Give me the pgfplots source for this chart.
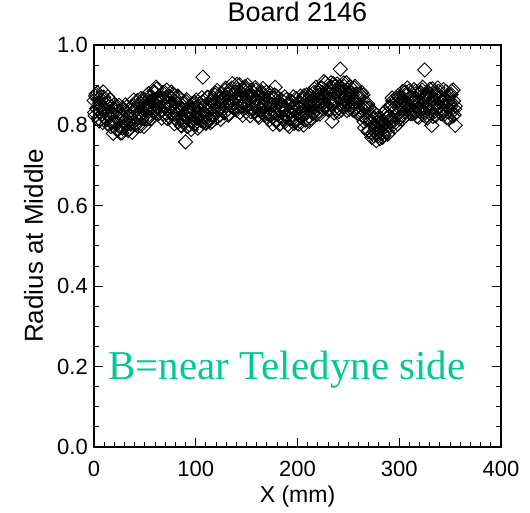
\documentclass[border=0pt]{standalone}
\usepackage{pgfplots}
\pgfplotsset{compat=1.18}
\usepackage{fontspec}
\setmainfont{Liberation Serif}
\newfontfamily\axisfont{Liberation Sans}
\definecolor{tealgreen}{RGB}{0,200,150}
\begin{document}
\begin{tikzpicture}
\path[use as bounding box] (-94pt,-66pt) rectangle (436pt,447pt);
\begin{axis}[
  scale only axis, width=407pt, height=402pt,
  xmin=0, xmax=400, ymin=0, ymax=1,
  xtick={0,100,200,300,400}, minor x tick num=9,
  ytick={0,0.2,0.4,0.6,0.8,1.0}, minor y tick num=3,
  tick align=inside, major tick length=9pt, minor tick length=4.5pt,
  axis line style={line width=1.6pt},
  every tick/.style={black, line width=1pt},
  /pgf/number format/assume math mode=true,
  tick label style={font=\axisfont\fontsize{22}{24}\selectfont},
  yticklabel style={/pgf/number format/.cd, fixed, fixed zerofill, precision=1, /tikz/.cd, inner sep=0pt, xshift=-6pt},
  xticklabel style={inner sep=0pt, yshift=-14pt},
  title={Board 2146},
  title style={font=\axisfont\fontsize{27}{29}\selectfont, at={(axis description cs:0.5,1)}, anchor=base, yshift=17pt},
  xlabel={X (mm)},
  xlabel style={font=\axisfont\fontsize{23}{25}\selectfont, at={(axis description cs:0.5,0)}, anchor=base, yshift=-56pt},
  ylabel={Radius at Middle},
  ylabel style={font=\axisfont\fontsize{26}{28}\selectfont, at={(axis description cs:0,0.5)}, anchor=base, yshift=51pt},
]
\addplot[only marks, mark=square, mark size=5pt, mark options={rotate=45, line width=0.9pt, black}] coordinates {
(0,0.862)(1,0.824)(2,0.878)(3,0.840)(4,0.865)(5,0.811)(6,0.850)(7,0.871)(8,0.829)(9,0.883)
(10,0.820)(11,0.840)(12,0.852)(13,0.805)(14,0.854)(15,0.825)(16,0.863)(17,0.807)(18,0.831)(19,0.780)
(20,0.843)(21,0.805)(22,0.849)(23,0.788)(24,0.819)(25,0.835)(26,0.781)(27,0.824)(28,0.793)(29,0.841)
(30,0.809)(31,0.851)(32,0.804)(33,0.830)(34,0.791)(35,0.824)(36,0.803)(37,0.847)(38,0.807)(39,0.863)
(40,0.802)(41,0.825)(42,0.841)(43,0.798)(44,0.851)(45,0.825)(46,0.867)(47,0.816)(48,0.844)(49,0.797)
(50,0.864)(51,0.829)(52,0.875)(53,0.817)(54,0.850)(55,0.869)(56,0.817)(57,0.862)(58,0.834)(59,0.884)
(60,0.855)(61,0.895)(62,0.847)(63,0.870)(64,0.830)(65,0.861)(66,0.839)(67,0.866)(68,0.829)(69,0.883)
(70,0.845)(71,0.870)(72,0.817)(73,0.856)(74,0.873)(75,0.845)(76,0.883)(77,0.829)(78,0.853)(79,0.804)
(80,0.867)(81,0.828)(82,0.871)(83,0.809)(84,0.839)(85,0.854)(86,0.799)(87,0.841)(88,0.809)(89,0.856)
(90,0.823)(91,0.864)(92,0.816)(93,0.840)(94,0.801)(95,0.833)(96,0.811)(97,0.839)(98,0.802)(99,0.857)
(100,0.819)(101,0.845)(102,0.793)(103,0.833)(104,0.855)(105,0.813)(106,0.869)(107,0.809)(108,0.832)(109,0.848)
(110,0.805)(111,0.824)(112,0.869)(113,0.811)(114,0.843)(115,0.861)(116,0.810)(117,0.854)(118,0.825)(119,0.875)
(120,0.845)(121,0.887)(122,0.840)(123,0.865)(124,0.826)(125,0.859)(126,0.838)(127,0.867)(128,0.831)(129,0.887)
(130,0.850)(131,0.877)(132,0.825)(133,0.866)(134,0.889)(135,0.848)(136,0.904)(137,0.843)(138,0.866)(139,0.882)
(140,0.838)(141,0.889)(142,0.862)(143,0.901)(144,0.848)(145,0.873)(146,0.825)(147,0.889)(148,0.844)(149,0.891)
(150,0.860)(151,0.900)(152,0.851)(153,0.875)(154,0.834)(155,0.866)(156,0.843)(157,0.871)(158,0.833)(159,0.888)
(160,0.849)(161,0.874)(162,0.820)(163,0.859)(164,0.881)(165,0.838)(166,0.892)(167,0.829)(168,0.850)(169,0.864)
(170,0.819)(171,0.870)(172,0.842)(173,0.881)(174,0.827)(175,0.852)(176,0.803)(177,0.868)(178,0.830)(179,0.873)
(180,0.812)(181,0.842)(182,0.859)(183,0.805)(184,0.847)(185,0.843)(186,0.820)(187,0.847)(188,0.810)(189,0.864)
(190,0.825)(191,0.851)(192,0.797)(193,0.836)(194,0.858)(195,0.815)(196,0.871)(197,0.810)(198,0.833)(199,0.849)
(200,0.805)(201,0.858)(202,0.832)(203,0.873)(204,0.821)(205,0.848)(206,0.801)(207,0.867)(208,0.831)(209,0.876)
(210,0.817)(211,0.850)(212,0.868)(213,0.817)(214,0.861)(215,0.833)(216,0.882)(217,0.853)(218,0.895)(219,0.849)
(220,0.874)(221,0.836)(222,0.828)(223,0.870)(224,0.893)(225,0.853)(226,0.909)(227,0.849)(228,0.872)(229,0.886)
(230,0.841)(231,0.893)(232,0.866)(233,0.906)(234,0.853)(235,0.879)(236,0.831)(237,0.896)(238,0.859)(239,0.903)
(240,0.843)(241,0.874)(242,0.891)(243,0.838)(244,0.881)(245,0.850)(246,0.897)(247,0.866)(248,0.906)(249,0.857)
(250,0.881)(251,0.840)(252,0.871)(253,0.849)(254,0.876)(255,0.838)(256,0.893)(257,0.854)(258,0.879)(259,0.876)
(260,0.830)(261,0.878)(262,0.846)(263,0.882)(264,0.825)(265,0.846)(266,0.794)(267,0.854)(268,0.813)(269,0.853)
(270,0.788)(271,0.815)(272,0.827)(273,0.770)(274,0.808)(275,0.774)(276,0.817)(277,0.782)(278,0.825)(279,0.779)
(280,0.805)(281,0.767)(282,0.800)(283,0.780)(284,0.810)(285,0.775)(286,0.834)(287,0.799)(288,0.829)(289,0.779)
(290,0.823)(291,0.848)(292,0.810)(293,0.868)(294,0.810)(295,0.835)(296,0.797)(297,0.864)(298,0.828)(299,0.874)
(300,0.816)(301,0.849)(302,0.868)(303,0.816)(304,0.861)(305,0.833)(306,0.883)(307,0.852)(308,0.893)(309,0.845)
(310,0.869)(311,0.829)(312,0.861)(313,0.839)(314,0.867)(315,0.830)(316,0.885)(317,0.847)(318,0.873)(319,0.820)
(320,0.860)(321,0.882)(322,0.840)(323,0.895)(324,0.833)(325,0.855)(326,0.870)(327,0.825)(328,0.877)(329,0.850)
(330,0.890)(331,0.837)(332,0.863)(333,0.822)(334,0.865)(335,0.835)(336,0.883)(337,0.852)(338,0.893)(339,0.845)
(340,0.869)(341,0.829)(342,0.861)(343,0.839)(344,0.866)(345,0.829)(346,0.884)(347,0.846)(348,0.871)(349,0.817)
(350,0.856)(351,0.877)(352,0.834)(353,0.888)(354,0.826)(355,0.848)
(107,0.920)(90,0.759)(242,0.940)(325,0.938)(234,0.810)(332,0.800)(355,0.800)(178,0.895)
(0.5,0.832)(1.5,0.873)(2.5,0.842)(3.5,0.881)(4.5,0.818)(5.5,0.855)(6.5,0.833)(7.5,0.863)(8.5,0.807)(9.5,0.870)
(10.5,0.840)(11.5,0.853)(12.5,0.814)(13.5,0.871)(14.5,0.823)(15.5,0.834)(16.5,0.797)(17.5,0.846)(18.5,0.808)(19.5,0.850)
(20.5,0.811)(21.5,0.833)(22.5,0.791)(23.5,0.818)(24.5,0.850)(25.5,0.795)(26.5,0.825)(27.5,0.781)(28.5,0.820)(29.5,0.795)
(30.5,0.836)(31.5,0.807)(32.5,0.847)(33.5,0.787)(34.5,0.826)(35.5,0.806)(36.5,0.838)(37.5,0.783)(38.5,0.849)(39.5,0.821)
(40.5,0.837)(41.5,0.802)(42.5,0.862)(43.5,0.819)(44.5,0.833)(45.5,0.799)(46.5,0.853)(47.5,0.819)(48.5,0.866)(49.5,0.830)
(50.5,0.855)(51.5,0.815)(52.5,0.845)(53.5,0.879)(54.5,0.827)(55.5,0.860)(56.5,0.817)(57.5,0.859)(58.5,0.836)(59.5,0.880)
(60.5,0.852)(61.5,0.890)(62.5,0.828)(63.5,0.865)(64.5,0.844)(65.5,0.874)(66.5,0.818)(67.5,0.881)(68.5,0.852)(69.5,0.866)
(70.5,0.830)(71.5,0.888)(72.5,0.843)(73.5,0.855)(74.5,0.820)(75.5,0.871)(76.5,0.833)(77.5,0.877)(78.5,0.838)(79.5,0.860)
(80.5,0.816)(81.5,0.842)(82.5,0.873)(83.5,0.817)(84.5,0.847)(85.5,0.801)(86.5,0.839)(87.5,0.813)(88.5,0.853)(89.5,0.822)
(90.5,0.859)(91.5,0.797)(92.5,0.835)(93.5,0.814)(94.5,0.846)(95.5,0.790)(96.5,0.854)(97.5,0.825)(98.5,0.840)(99.5,0.804)
(100.5,0.863)(101.5,0.818)(102.5,0.832)(103.5,0.797)(104.5,0.849)(105.5,0.813)(106.5,0.859)(107.5,0.824)(108.5,0.848)(109.5,0.807)
(110.5,0.837)(111.5,0.870)(112.5,0.817)(113.5,0.850)(114.5,0.807)(115.5,0.848)(116.5,0.825)(117.5,0.868)(118.5,0.839)(119.5,0.880)
(120.5,0.819)(121.5,0.858)(122.5,0.838)(123.5,0.870)(124.5,0.815)(125.5,0.880)(126.5,0.852)(127.5,0.868)(128.5,0.833)(129.5,0.893)
(130.5,0.849)(131.5,0.863)(132.5,0.829)(133.5,0.882)(134.5,0.847)(135.5,0.893)(136.5,0.857)(137.5,0.881)(138.5,0.840)(139.5,0.869)
(140.5,0.902)(141.5,0.847)(142.5,0.878)(143.5,0.833)(144.5,0.873)(145.5,0.847)(146.5,0.889)(147.5,0.858)(148.5,0.897)(149.5,0.834)
(150.5,0.872)(151.5,0.850)(152.5,0.880)(153.5,0.824)(154.5,0.887)(155.5,0.858)(156.5,0.872)(157.5,0.836)(158.5,0.894)(159.5,0.849)
(160.5,0.861)(161.5,0.825)(162.5,0.876)(163.5,0.839)(164.5,0.884)(165.5,0.846)(166.5,0.868)(167.5,0.825)(168.5,0.852)(169.5,0.883)
(170.5,0.829)(171.5,0.859)(172.5,0.814)(173.5,0.853)(174.5,0.827)(175.5,0.868)(176.5,0.837)(177.5,0.876)(178.5,0.813)(179.5,0.850)
(180.5,0.828)(181.5,0.858)(182.5,0.802)(183.5,0.865)(184.5,0.835)(185.5,0.850)(186.5,0.813)(187.5,0.871)(188.5,0.826)(189.5,0.838)
(190.5,0.802)(191.5,0.854)(192.5,0.817)(193.5,0.861)(194.5,0.824)(195.5,0.846)(196.5,0.805)(197.5,0.834)(198.5,0.867)(199.5,0.814)
(200.5,0.846)(201.5,0.803)(202.5,0.844)(203.5,0.820)(204.5,0.863)(205.5,0.834)(206.5,0.874)(207.5,0.813)(208.5,0.852)(209.5,0.832)
(210.5,0.864)(211.5,0.810)(212.5,0.875)(213.5,0.848)(214.5,0.864)(215.5,0.830)(216.5,0.890)(217.5,0.847)(218.5,0.861)(219.5,0.828)
(220.5,0.881)(221.5,0.847)(222.5,0.893)(223.5,0.858)(224.5,0.882)(225.5,0.842)(226.5,0.871)(227.5,0.905)(228.5,0.852)(229.5,0.882)
(230.5,0.838)(231.5,0.878)(232.5,0.853)(233.5,0.895)(234.5,0.865)(235.5,0.904)(236.5,0.842)(237.5,0.880)(238.5,0.859)(239.5,0.890)
(240.5,0.834)(241.5,0.898)(242.5,0.869)(243.5,0.884)(244.5,0.848)(245.5,0.906)(246.5,0.860)(247.5,0.873)(248.5,0.837)(249.5,0.888)
(250.5,0.852)(251.5,0.896)(252.5,0.858)(253.5,0.881)(254.5,0.838)(255.5,0.865)(256.5,0.897)(257.5,0.842)(258.5,0.872)(259.5,0.828)
(260.5,0.867)(261.5,0.838)(262.5,0.875)(263.5,0.841)(264.5,0.876)(265.5,0.809)(266.5,0.843)(267.5,0.817)(268.5,0.844)(269.5,0.784)
(270.5,0.843)(271.5,0.810)(272.5,0.820)(273.5,0.780)(274.5,0.834)(275.5,0.785)(276.5,0.793)(277.5,0.762)(278.5,0.808)(279.5,0.774)
(280.5,0.821)(281.5,0.786)(282.5,0.810)(283.5,0.770)(284.5,0.800)(285.5,0.834)(286.5,0.784)(287.5,0.818)(288.5,0.778)(289.5,0.821)
(290.5,0.800)(291.5,0.845)(292.5,0.819)(293.5,0.861)(294.5,0.803)(295.5,0.844)(296.5,0.825)(297.5,0.858)(298.5,0.803)(299.5,0.869)
(300.5,0.842)(301.5,0.859)(302.5,0.825)(303.5,0.885)(304.5,0.842)(305.5,0.857)(306.5,0.824)(307.5,0.876)(308.5,0.840)(309.5,0.885)
(310.5,0.848)(311.5,0.871)(312.5,0.829)(313.5,0.857)(314.5,0.889)(315.5,0.835)(316.5,0.866)(317.5,0.822)(318.5,0.862)(319.5,0.837)
(320.5,0.879)(321.5,0.849)(322.5,0.888)(323.5,0.826)(324.5,0.864)(325.5,0.843)(326.5,0.874)(327.5,0.818)(328.5,0.882)(329.5,0.853)
(330.5,0.868)(331.5,0.832)(332.5,0.891)(333.5,0.846)(334.5,0.859)(335.5,0.824)(336.5,0.876)(337.5,0.840)(338.5,0.885)(339.5,0.848)
(340.5,0.871)(341.5,0.829)(342.5,0.857)(343.5,0.889)(344.5,0.835)(345.5,0.866)(346.5,0.819)(347.5,0.859)(348.5,0.834)(349.5,0.876)
(350.5,0.846)(351.5,0.885)(352.5,0.823)(353.5,0.861)(354.5,0.840)
};
\node[anchor=base west, inner sep=0pt, text=tealgreen, font=\rmfamily\fontsize{41}{41}\selectfont] at (axis cs:13.8,0.1667) {B=near Teledyne side};
\end{axis}
\end{tikzpicture}
\end{document}
